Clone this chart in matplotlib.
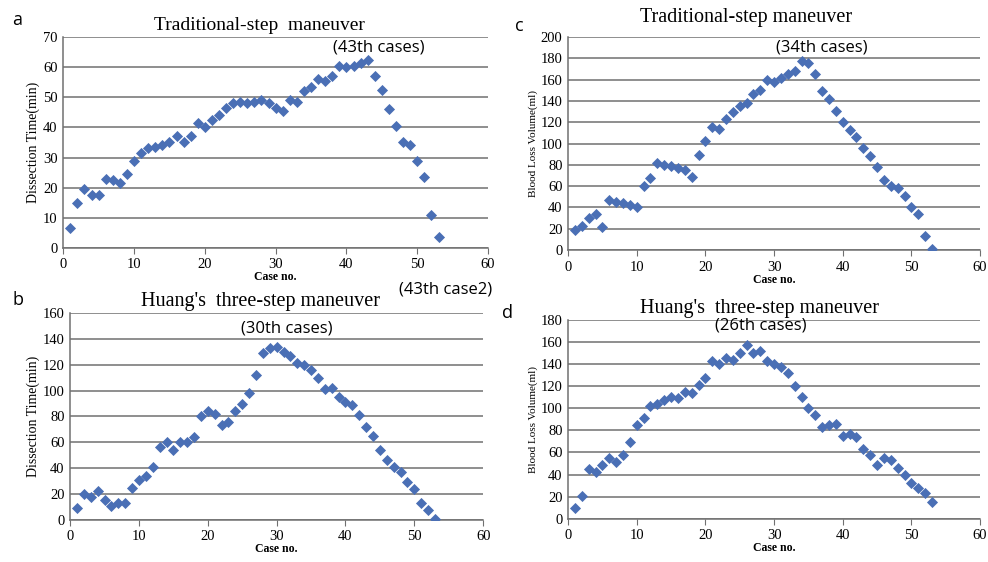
import matplotlib.pyplot as plt
import numpy as np

# - DATA -
cases = np.arange(1, 54)

trad_time = [6.5, 15, 19.5, 17.5, 17.5, 23, 22.5, 21.5, 24.5, 29,
             31.5, 33, 33.5, 34, 35, 37, 35, 37, 41.5, 40,
             42.5, 44, 46.5, 48, 48.5, 48, 48.5, 49, 48, 46.5,
             45.5, 49, 48.5, 52, 53.5, 56, 55.5, 57, 60.5, 60,
             60.5, 61.5, 62.5, 57, 52.5, 46, 40.5, 35, 34, 29,
             23.5, 11, 3.5]

huang_time = [9, 20, 18, 22, 15, 11, 13, 13, 25, 31,
              34, 41, 56, 60, 54, 60, 60, 64, 80, 84,
              82, 73, 76, 84, 90, 98, 112, 129, 133, 134,
              130, 127, 121, 120, 116, 110, 101, 102, 95, 91,
              89, 81, 72, 65, 54, 46, 41, 37, 29, 24,
              13, 8, 1]

trad_blood = [19, 23, 30, 34, 22, 47, 45, 44, 42, 40,
              60, 68, 82, 80, 79, 77, 75, 69, 89, 102,
              116, 114, 123, 130, 135, 138, 147, 150, 160, 158,
              162, 165, 168, 178, 176, 165, 149, 142, 131, 120,
              113, 106, 96, 88, 78, 66, 60, 58, 51, 40,
              34, 13, 1]

huang_blood = [10, 21, 45, 42, 49, 55, 51, 58, 69, 85,
               91, 102, 104, 107, 110, 109, 115, 114, 121, 127,
               143, 140, 145, 144, 150, 157, 150, 152, 143, 140,
               137, 132, 120, 110, 100, 94, 83, 85, 86, 75,
               77, 74, 63, 58, 49, 55, 53, 46, 40, 32,
               28, 23, 15]
# - DATA -

blue = '#4a6fb5'
serif = 'Liberation Serif'
sans = 'Open Sans'

fig = plt.figure(figsize=(9.88, 5.62), dpi=100)

panels = [
    # rect, y data, ymax, ystep, title, title size, title x, ylabel, ylabel size, letter, letter pos, title pad
    ([0.064, 0.559, 0.430, 0.375], trad_time, 70, 10, 'Traditional-step  maneuver', 14, 0.463,
     'Dissection Time(min)', 10, 'a', (-0.12, 1.04), 5),
    ([0.575, 0.555, 0.417, 0.379], trad_blood, 200, 20, 'Traditional-step maneuver', 14.5, 0.432,
     'Blood Loss Volume(ml)', 8, 'c', (-0.13, 1.01), 11),
    ([0.071, 0.075, 0.418, 0.368], huang_time, 160, 20, "Huang's  three-step maneuver", 14.5, 0.46,
     'Dissection Time(min)', 10, 'b', (-0.14, 1.02), 5),
    ([0.575, 0.077, 0.417, 0.354], huang_blood, 180, 20, "Huang's  three-step maneuver", 14.5, 0.464,
     'Blood Loss Volume(ml)', 8, 'd', (-0.16, 0.99), 5),
]

axes = []
for rect, y, ymax, step, title, tsize, tx, ylab, ysize, letter, lpos, tpad in panels:
    ax = fig.add_axes(rect)
    ax.scatter(cases, y, marker='D', s=32, color=blue, zorder=3, linewidths=0)
    ax.set_xlim(0, 60)
    ax.set_ylim(0, ymax)
    ax.set_xticks(range(0, 61, 10))
    ax.set_yticks(range(0, ymax + 1, step))
    ax.yaxis.grid(True, color='#707070', linewidth=1.1)
    ax.set_axisbelow(True)
    for s in ['top', 'right']:
        ax.spines[s].set_visible(False)
    for s in ['left', 'bottom']:
        ax.spines[s].set_color('#707070')
        ax.spines[s].set_linewidth(1.1)
    ax.tick_params(axis='y', length=0, labelsize=10.5, pad=4)
    ax.tick_params(axis='x', length=4, color='#707070', labelsize=10.5, direction='out')
    for lab in ax.get_xticklabels() + ax.get_yticklabels():
        lab.set_family(serif)
    ax.set_title(title, family=serif, fontsize=tsize, pad=tpad, x=tx)
    ax.set_ylabel(ylab, family=serif, fontsize=ysize, labelpad=2)
    ax.set_xlabel('Case no.', family=serif, fontsize=8.5, fontweight='bold', labelpad=0)
    ax.text(lpos[0], lpos[1], letter, transform=ax.transAxes, family=sans, fontsize=13, va='bottom')
    axes.append(ax)

ax_a, ax_c, ax_b, ax_d = axes
ax_a.text(44.5, 66.5, '(43th cases)', ha='center', va='center', family=sans, fontsize=12)
ax_a.text(54, -14, '(43th case2)', ha='center', va='center', family=sans, fontsize=12)
ax_c.text(37, 190, '(34th cases)', ha='center', va='center', family=sans, fontsize=12)
ax_b.text(31.5, 148, '(30th cases)', ha='center', va='center', family=sans, fontsize=12)
ax_d.text(28, 175, '(26th cases)', ha='center', va='center', family=sans, fontsize=12)

plt.savefig('out.png', dpi=100)
